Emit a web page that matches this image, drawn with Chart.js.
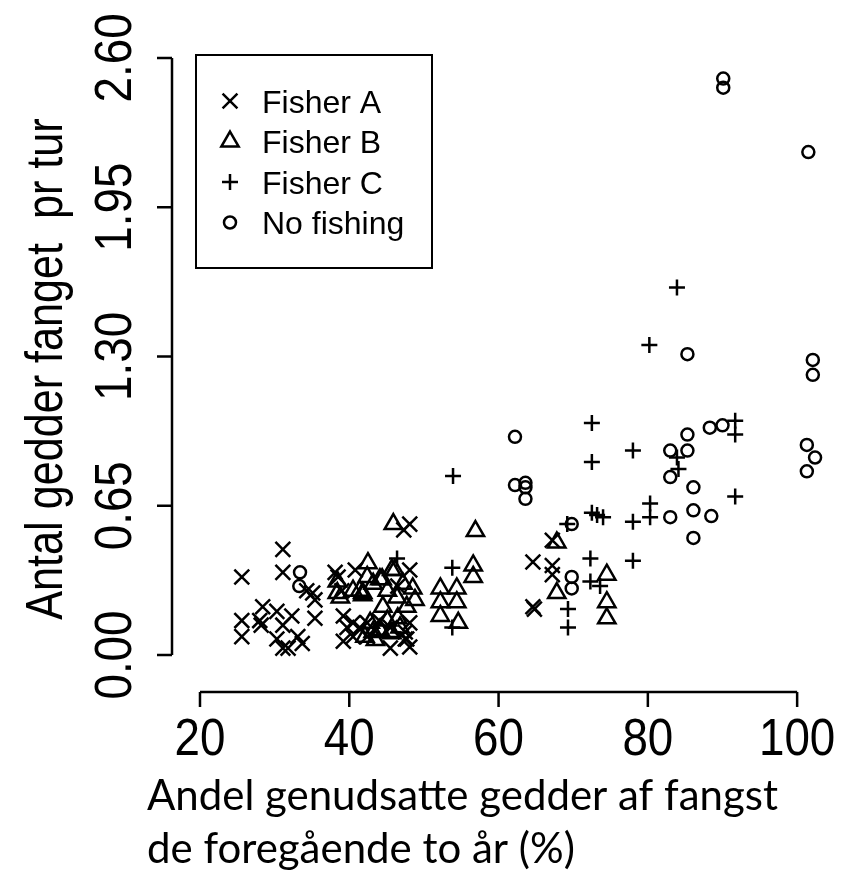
<!DOCTYPE html>
<html>
<head>
<meta charset="utf-8">
<script src="https://cdn.jsdelivr.net/npm/chart.js@4.4.1/dist/chart.umd.min.js"></script>
<style>
html,body{margin:0;padding:0;background:#fff;}
canvas{display:block;}
</style>
</head>
<body>
<canvas id="fig" width="844" height="882"></canvas>
<script>
/* ---------- DATA ---------- */

const seriesNames = ["Fisher A","Fisher B","Fisher C","No fishing"];

const fisherA = [
[25.6,0.34],[25.6,0.15],[25.6,0.08],[31.1,0.46],[31.1,0.36],[28.4,0.21],[28.0,0.15],[28.2,0.13],
[30.3,0.19],[32.3,0.17],[31.1,0.13],[30.3,0.07],[31.1,0.03],[31.8,0.03],[33.1,0.08],[33.7,0.05],
[34.3,0.28],[35.1,0.27],[35.4,0.24],[35.4,0.16],[38.1,0.36],[38.5,0.34],[40.8,0.37],[39.0,0.28],
[39.2,0.17],[39.7,0.12],[40.5,0.14],[41.4,0.12],[42.4,0.14],[39.2,0.06],[40.5,0.08],[42.4,0.08],
[45.5,0.03],[47.5,0.07],[48.1,0.57],[47.3,0.545],[48.1,0.37],[48.1,0.14],[47.5,0.10],[47.7,0.07],
[48.1,0.035],[45.5,0.12],[44.0,0.15],[46.5,0.30],[64.6,0.405],[67.2,0.50],[67.2,0.39],[67.2,0.35],
[64.6,0.21],[64.8,0.20]
];

const fisherB = [
[42.5,0.40],[38.4,0.32],[38.4,0.27],[38.8,0.25],[40.5,0.28],[41.8,0.27],[42.4,0.34],[43.2,0.31],
[44.1,0.33],[41.4,0.28],[41.8,0.26],[45.1,0.28],[44.5,0.21],[46.4,0.25],[47.2,0.31],[47.7,0.21],
[46.5,0.16],[48.5,0.29],[48.8,0.24],[45.7,0.37],[46.1,0.37],[45.9,0.57],[56.9,0.54],[56.6,0.39],
[56.6,0.34],[52.2,0.29],[54.4,0.29],[52.2,0.23],[54.4,0.23],[52.2,0.17],[54.6,0.14],[42.1,0.08],
[42.8,0.14],[43.2,0.10],[45.1,0.15],[45.5,0.10],[46.8,0.12],[44.1,0.11],[43.5,0.065],[45.7,0.095],
[67.8,0.49],[67.8,0.27],[74.5,0.35],[74.5,0.23],[74.5,0.16],[44.4,0.33]
];

const fisherC = [
[46.4,0.42],[53.9,0.78],[53.8,0.38],[53.8,0.12],[69.3,0.20],[69.3,0.12],[69.2,0.57],[72.5,1.01],
[72.5,0.84],[72.5,0.62],[73.2,0.61],[72.3,0.42],[72.3,0.32],[73.6,0.30],[78.0,0.89],[78.0,0.41],
[78.0,0.58],[80.3,0.66],[80.3,0.60],[80.2,1.35],[83.9,1.60],[83.9,0.86],[84.1,0.81],[91.7,1.02],
[91.7,0.96],[91.7,0.69],[74.0,0.60]
];

const noFishing = [
[33.4,0.36],[33.3,0.30],[62.2,0.95],[62.2,0.74],[63.6,0.75],[63.6,0.73],[63.6,0.68],[69.8,0.57],
[69.8,0.34],[69.8,0.29],[85.3,1.31],[102.1,1.285],[102.1,1.22],[88.3,0.99],[90.0,1.00],[85.3,0.96],
[83.0,0.89],[85.3,0.89],[83.0,0.775],[101.3,0.915],[102.4,0.86],[101.3,0.80],[86.1,0.73],[83.0,0.60],
[86.1,0.63],[88.5,0.605],[86.1,0.51],[90.1,2.51],[90.1,2.47],[101.5,2.19]
];

const xTicks = [20,40,60,80,100];
const yTicks = [0,0.65,1.30,1.95,2.60];
const yTickLabels = ["0.00","0.65","1.30","1.95","2.60"];
const xTitle = ["Andel genudsatte gedder af fangst","de foregående to år (%)"];
const yTitle = "Antal gedder fanget  pr tur";


/* ---------- HELPERS ---------- */

const SANS = "'Liberation Sans', Arial, sans-serif";
const markers = [
{pointStyle:"crossRot",radius:10.5},
{pointStyle:"triangle",radius:10},
{pointStyle:"cross",radius:8},
{pointStyle:"circle",radius:6}
];

function toPoints(arr){
return arr.map(p=>({x:p[0],y:p[1]}))
}

function text(ctx,s,x,y,size,family,rot,sx,align){
ctx.save()
ctx.translate(x,y)
if(rot) ctx.rotate(rot)
ctx.scale(sx,1)
ctx.font=size+"px "+family
ctx.textAlign=align
ctx.textBaseline="alphabetic"
ctx.fillText(s,0,0)
ctx.restore()
}

function marker(ctx,m,x,y){
ctx.save()
ctx.strokeStyle="#000"
ctx.fillStyle="rgba(0,0,0,0)"
ctx.lineWidth=2.5
Chart.helpers.drawPoint(ctx,{pointStyle:m.pointStyle,radius:m.radius,rotation:0,borderWidth:2.5},x,y)
ctx.restore()
}


/* ---------- R STYLE AXES + LEGEND ---------- */

const rAxes = {
id:"rAxes",
afterDraw(chart){
const ctx=chart.ctx, xs=chart.scales.x, ys=chart.scales.y, a=chart.chartArea
ctx.save()
ctx.strokeStyle="#000"
ctx.fillStyle="#000"
ctx.lineWidth=2.5

// x axis
const yAx=a.bottom
ctx.beginPath()
ctx.moveTo(xs.getPixelForValue(xTicks[0]),yAx)
ctx.lineTo(xs.getPixelForValue(xTicks[xTicks.length-1]),yAx)
xTicks.forEach(v=>{
const p=xs.getPixelForValue(v)
ctx.moveTo(p,yAx)
ctx.lineTo(p,yAx+15)
})
ctx.stroke()
xTicks.forEach(v=>{
text(ctx,String(v),xs.getPixelForValue(v),yAx+63,52,SANS,0,0.88,"center")
})

// y axis
const xAx=a.left
ctx.beginPath()
ctx.moveTo(xAx,ys.getPixelForValue(yTicks[0]))
ctx.lineTo(xAx,ys.getPixelForValue(yTicks[yTicks.length-1]))
yTicks.forEach(v=>{
const p=ys.getPixelForValue(v)
ctx.moveTo(xAx,p)
ctx.lineTo(xAx-15,p)
})
ctx.stroke()
yTicks.forEach((v,i)=>{
text(ctx,yTickLabels[i],xAx-41,ys.getPixelForValue(v),52,SANS,-Math.PI/2,0.88,"center")
})

// axis titles
text(ctx,yTitle,62,369,52,SANS,-Math.PI/2,0.83,"center")
ctx.font="40px Lato"
const w=ctx.measureText(xTitle[0]).width
const fs=40*631/w
text(ctx,xTitle[0],147,810,fs,"Lato",0,1,"left")
text(ctx,xTitle[1],147,863,fs,"Lato",0,1,"left")

// legend box
ctx.lineWidth=2
ctx.strokeRect(196,55,236,213)
seriesNames.forEach((n,i)=>{
const cy=101+i*40.5
marker(ctx,markers[i],230,cy)
text(ctx,n,262,cy+11.5,32,SANS,0,1,"left")
})
ctx.restore()
}
}


/* ---------- CHART ---------- */

const datasets=[fisherA,fisherB,fisherC,noFishing].map((d,i)=>({
label:seriesNames[i],
data:toPoints(d),
pointStyle:markers[i].pointStyle,
pointRadius:markers[i].radius,
pointBorderWidth:2.5,
pointBorderColor:"#000",
pointBackgroundColor:"rgba(0,0,0,0)",
showLine:false,
clip:false
}))

new Chart(document.getElementById("fig").getContext("2d"),{
type:"scatter",
data:{datasets:datasets},
options:{
responsive:false,
animation:false,
devicePixelRatio:1,
layout:{padding:{left:172,right:17,top:34,bottom:190}},
plugins:{legend:{display:false},tooltip:{enabled:false},title:{display:false}},
scales:{
x:{type:"linear",min:16.25,max:104,display:false},
y:{type:"linear",min:-0.161,max:2.704,display:false}
}
},
plugins:[rAxes]
})
</script>
</body>
</html>
